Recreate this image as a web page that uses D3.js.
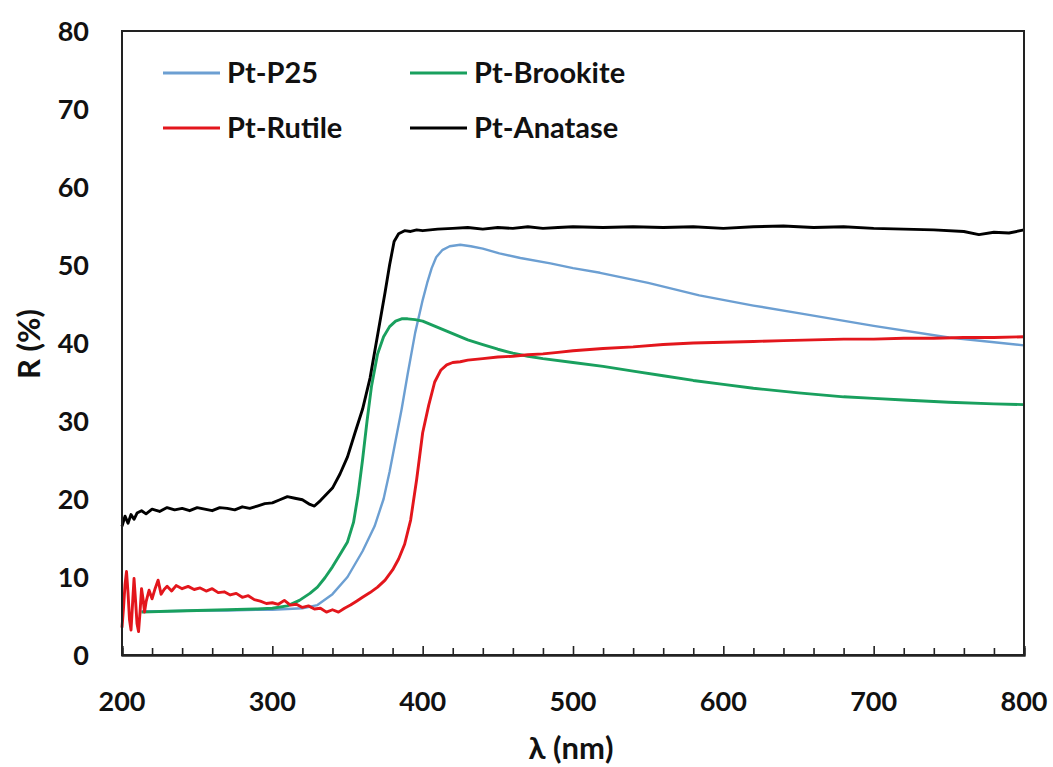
<!DOCTYPE html>
<html><head><meta charset="utf-8">
<script src="https://cdn.jsdelivr.net/npm/d3@7/dist/d3.min.js"></script>
<style>
html,body{margin:0;padding:0;background:#fff;}
svg{display:block;font-family:Lato,"Open Sans",sans-serif;font-weight:bold;}
</style></head>
<body>
<svg id="chart" width="1053" height="767"></svg>
<script>
// ---- data ----
const xTicks = [200, 300, 400, 500, 600, 700, 800];
const yTicks = [0, 10, 20, 30, 40, 50, 60, 70, 80];
const seriesNames = ["Pt-P25", "Pt-Brookite", "Pt-Rutile", "Pt-Anatase"];

const p25Wl = [213,230,250,270,290,300,310,320,330,340,350,360,368,374,378,382,386,390,395,400,403,406,409,413,418,425,432,440,451,465,485,500,518,550,584,620,651,700,750,800];
const p25R  = [5.6,5.6,5.7,5.7,5.8,5.8,5.9,6.0,6.4,7.8,10.0,13.3,16.5,20.0,23.5,27.5,31.5,36.0,41.3,45.5,47.7,49.6,51.0,51.9,52.4,52.6,52.4,52.1,51.5,50.9,50.2,49.6,49.0,47.7,46.1,44.8,43.8,42.2,40.7,39.7];

const brookiteWl = [213,230,250,270,290,300,310,318,325,330,335,340,345,350,354,357,360,363,366,370,374,378,382,386,390,395,400,410,420,430,440,450,460,470,480,500,520,540,560,580,600,620,650,680,700,720,750,780,800];
const brookiteR  = [5.5,5.6,5.7,5.8,5.9,6.0,6.3,7.0,7.9,8.7,9.9,11.3,12.9,14.5,17.0,20.5,25.0,30.0,34.5,38.6,40.8,42.1,42.8,43.1,43.1,43.0,42.8,42.0,41.2,40.4,39.8,39.2,38.7,38.3,38.0,37.5,37.0,36.4,35.8,35.2,34.7,34.2,33.6,33.1,32.9,32.7,32.4,32.2,32.1];

const rutileWl = [200,201,202,203,204,205,206,207,208,209,210,211,212,213,214,215,216,218,220,222,224,226,228,230,233,236,240,244,248,252,256,260,264,268,272,276,280,284,288,292,296,300,304,308,312,316,320,324,328,332,336,340,344,348,352,356,360,365,370,375,380,384,388,392,396,400,404,408,412,416,420,425,430,440,450,460,470,480,490,500,520,540,560,580,600,620,640,660,680,700,720,740,760,780,800];
const rutileR  = [3.5,6.0,9.0,10.7,8.0,4.5,3.2,6.5,9.8,7.0,4.0,3.0,5.5,8.5,7.2,5.5,6.8,8.3,7.2,8.5,9.6,7.8,8.4,8.8,8.2,8.9,8.5,8.8,8.4,8.6,8.2,8.5,8.0,8.1,7.7,7.9,7.4,7.6,7.1,6.9,6.6,6.7,6.5,7.0,6.4,6.5,6.1,6.3,5.9,6.0,5.5,5.8,5.5,6.0,6.4,6.9,7.4,8.0,8.7,9.6,10.9,12.3,14.2,17.3,22.5,28.5,32.0,35.0,36.5,37.2,37.5,37.6,37.8,38.0,38.2,38.3,38.5,38.6,38.8,39.0,39.3,39.5,39.8,40.0,40.1,40.2,40.3,40.4,40.5,40.5,40.6,40.6,40.7,40.7,40.8];

const anataseWl = [200,202,204,206,208,210,213,216,220,225,230,235,240,245,250,255,260,265,270,275,280,285,290,295,300,305,310,315,320,325,328,332,336,340,345,350,355,360,365,370,375,378,381,384,388,392,396,400,410,420,430,440,450,460,470,480,490,500,520,540,560,580,600,620,640,660,680,700,720,740,760,770,780,790,800];
const anataseR  = [16.5,17.8,16.9,18.0,17.4,18.2,18.5,18.1,18.7,18.4,18.9,18.6,18.8,18.5,18.9,18.7,18.5,18.9,18.8,18.6,19.0,18.8,19.1,19.4,19.5,19.9,20.3,20.1,19.9,19.3,19.1,19.8,20.6,21.4,23.2,25.4,28.5,31.5,35.5,41.0,46.5,50.0,53.0,54.0,54.4,54.3,54.5,54.4,54.6,54.7,54.8,54.6,54.8,54.7,54.9,54.7,54.8,54.9,54.8,54.9,54.8,54.9,54.7,54.9,55.0,54.8,54.9,54.7,54.6,54.5,54.3,53.9,54.2,54.1,54.5];

const colors = {"Pt-P25":"#6c9fd2","Pt-Brookite":"#19a05e","Pt-Rutile":"#e3161c","Pt-Anatase":"#000000"};

// ---- layout ----
const svg = d3.select("#chart");
const L = 122, R = 1024, T = 31, B = 655;
const x = d3.scaleLinear().domain([200, 800]).range([L, R]);
const y = d3.scaleLinear().domain([0, 80]).range([B, T]);

const series = [
  {name:"Pt-P25", wl:p25Wl, r:p25R, w:2.4},
  {name:"Pt-Brookite", wl:brookiteWl, r:brookiteR, w:2.9},
  {name:"Pt-Rutile", wl:rutileWl, r:rutileR, w:2.9},
  {name:"Pt-Anatase", wl:anataseWl, r:anataseR, w:2.9}
];
const line = d3.line().x(d => x(d[0])).y(d => y(d[1]));
series.forEach(s => {
  svg.append("path")
    .datum(s.wl.map((v, i) => [v, s.r[i]]))
    .attr("d", line)
    .attr("fill", "none")
    .attr("stroke", colors[s.name])
    .attr("stroke-width", s.w)
    .attr("stroke-linejoin", "round");
});

// frame
svg.append("rect").attr("x", L).attr("y", T).attr("width", R - L).attr("height", B - T)
  .attr("fill", "none").attr("stroke", "#222").attr("stroke-width", 2);

// x axis: inward ticks (minor every 20)
const gx = svg.append("g").attr("transform", `translate(0,${B})`)
  .call(d3.axisBottom(x).tickValues(xTicks).tickSize(-9).tickFormat(""));
const minorTicks = d3.range(220, 800, 20).filter(v => v % 100 !== 0);
const gxm = svg.append("g").attr("transform", `translate(0,${B})`)
  .call(d3.axisBottom(x).tickValues(minorTicks).tickSize(-7).tickFormat(""));
[gx, gxm].forEach(g => {
  g.select(".domain").attr("stroke", "#222").attr("stroke-width", 2);
  g.selectAll(".tick line").attr("stroke", "#222").attr("stroke-width", 1.6);
});
svg.append("g").selectAll("text").data(xTicks).join("text")
  .attr("x", d => x(d)).attr("y", 711)
  .attr("text-anchor", "middle").attr("font-size", 27).attr("fill", "#111")
  .text(d => d);

// y tick labels (no tick marks)
svg.append("g").selectAll("text").data(yTicks).join("text")
  .attr("x", 89).attr("y", d => y(d))
  .attr("dy", "0.36em")
  .attr("text-anchor", "end").attr("font-size", 27).attr("fill", "#111")
  .text(d => d);

// axis titles
svg.append("text").attr("x", 571).attr("y", 759).attr("text-anchor", "middle")
  .attr("font-size", 31).attr("fill", "#111").text("λ (nm)");
svg.append("text").attr("transform", "translate(40,344) rotate(-90)")
  .attr("text-anchor", "middle").attr("font-size", 31).attr("fill", "#111").text("R (%)");

// legend
const legendItems = [
  {name:"Pt-P25", lx:163, ly:73},
  {name:"Pt-Rutile", lx:163, ly:128},
  {name:"Pt-Brookite", lx:410, ly:73},
  {name:"Pt-Anatase", lx:410, ly:128}
];
const lg = svg.append("g");
legendItems.forEach(it => {
  lg.append("line").attr("x1", it.lx).attr("x2", it.lx + 57)
    .attr("y1", it.ly).attr("y2", it.ly)
    .attr("stroke", colors[it.name]).attr("stroke-width", 3);
  lg.append("text").attr("x", it.lx + 64).attr("y", it.ly).attr("dy", "0.36em")
    .attr("font-size", 29).attr("fill", "#111").text(it.name);
});
</script>
</body></html>
